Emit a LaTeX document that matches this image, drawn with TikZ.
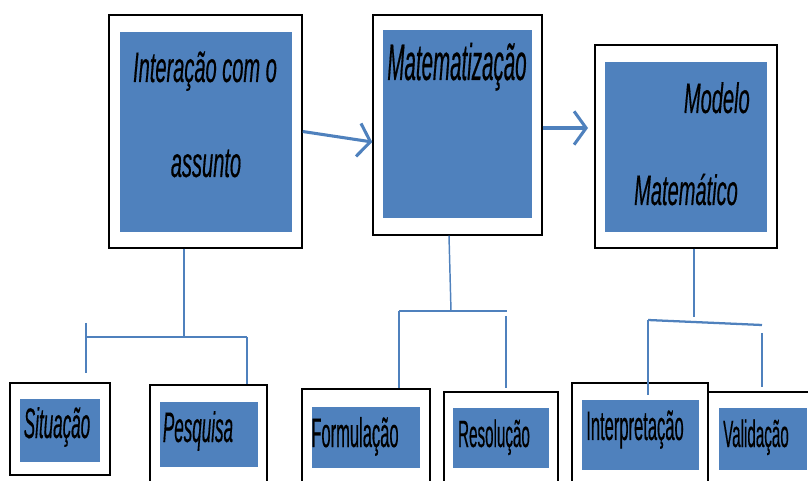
\documentclass[tikz,border=0pt]{standalone}
\usepackage{fontspec}
\setmainfont{Liberation Sans}
\newfontfamily\narrowA[FakeStretch=0.47,FakeBold=0.3]{Liberation Sans}
\newfontfamily\narrowB[FakeStretch=0.40,FakeBold=0.3]{Liberation Sans}
\usetikzlibrary{arrows.meta,fit}
\definecolor{boxblue}{RGB}{79,129,189}
\newcommand{\fsz}[1]{\fontsize{#1}{#1}\selectfont}

\begin{document}
\begin{tikzpicture}[x=0.75pt,y=-0.75pt,
  outer/.style={draw=black, line width=1.1pt, fill=white, inner sep=0pt},
  inner/.style={fill=boxblue, inner sep=0pt},
  lbl/.style={anchor=base, inner sep=0pt},
  link/.style={draw=boxblue, line width=1.1pt},
  bar/.style={draw=boxblue, line width=2.2pt},
  flow/.style={draw=boxblue, line width=2.3pt, -{Straight Barb[length=9pt,width=25pt]}}]
\useasboundingbox (0,0) rectangle (808,481);
\clip (0,0) rectangle (808,481);
% top row
\node[outer, fit={(109,15) (302,248)}] (interacaoBox){};
\node[inner, fit={(120,32) (292,232)}] (interacaoFill){};
\node[lbl, font=\narrowA\itshape\fsz{32}] (interacaoT1) at (205,82){Interação com o};
\node[lbl, font=\narrowA\itshape\fsz{32}] (interacaoT2) at (206,177){assunto};
\node[outer, fit={(373,15) (542,235)}] (matBox){};
\node[inner, fit={(383,30) (532,218)}] (matFill){};
\node[lbl, font=\narrowB\itshape\fsz{38.5}] (matT) at (457,80){Matematização};
\node[outer, fit={(595,45) (777,248)}] (modeloBox){};
\node[inner, fit={(605,62) (767,232)}] (modeloFill){};
\node[lbl, anchor=base east, font=\narrowA\itshape\fsz{32}] (modeloT1) at (750,113){Modelo};
\node[lbl, font=\narrowA\itshape\fsz{32}] (modeloT2) at (686,205){Matemático};
% bottom row
\node[outer, fit={(10,383) (110,475)}] (situacaoBox){};
\node[inner, fit={(20,399) (100,462)}] (situacaoFill){};
\node[lbl, font=\narrowB\itshape\fsz{32}] (situacaoT) at (57,438){Situação};
\node[outer, fit={(150,385) (267,495)}] (pesquisaBox){};
\node[inner, fit={(160,402) (258,467)}] (pesquisaFill){};
\node[lbl, font=\narrowB\itshape\fsz{32}] (pesquisaT) at (198,442){Pesquisa};
\node[outer, fit={(302,389) (430,495)}] (formulacaoBox){};
\node[inner, fit={(312,407) (420,468)}] (formulacaoFill){};
\node[lbl, font=\narrowB\fsz{31}] (formulacaoT) at (355,447){Formulação};
\node[outer, fit={(444,392) (558,495)}] (resolucaoBox){};
\node[inner, fit={(453,408) (549,468)}] (resolucaoFill){};
\node[lbl, font=\narrowB\fsz{28.5}] (resolucaoT) at (494,447){Resolução};
\node[outer, fit={(572,383) (708,495)}] (interpretacaoBox){};
\node[inner, fit={(582,400) (699,470)}] (interpretacaoFill){};
\node[lbl, font=\narrowB\fsz{31}] (interpretacaoT) at (635,440){Interpretação};
\node[outer, fit={(708,392) (830,495)}] (validacaoBox){};
\node[inner, fit={(719,408) (807,470)}] (validacaoFill){};
\node[lbl, font=\narrowB\fsz{28.5}] (validacaoT) at (756,447){Validação};
% arrows
\coordinate (a1) at (0,142);
\coordinate (a2) at (588,128);
\draw[flow] (interacaoBox.east) -- (matBox.west |- a1);
\draw[flow] (matBox.east |- a2) -- (a2);
% first tree
\coordinate (t1) at (184,337);
\coordinate (t1l) at (86,337);
\coordinate (t1r) at (247,337);
\coordinate (s1a) at (86,323);
\coordinate (s1b) at (86,373);
\draw[link] (interacaoBox.south -| t1) -- (t1);
\draw[bar] (t1l) -- (t1r);
\draw[link] (s1a) -- (s1b);
\draw[link] (t1r) -- (t1r |- pesquisaBox.north);
% second tree
\coordinate (t2a) at (449,0);
\coordinate (t2) at (451,311);
\coordinate (t2l) at (399,311);
\coordinate (t2r) at (507,311);
\coordinate (s2a) at (506,316);
\coordinate (s2b) at (506,388);
\draw[link] (matBox.south -| t2a) -- (t2);
\draw[bar] (t2l) -- (t2r);
\draw[link] (t2l) -- (t2l |- formulacaoBox.north);
\draw[link] (s2a) -- (s2b);
% third tree
\coordinate (t3) at (694,317);
\coordinate (t3l) at (648,320);
\coordinate (t3r) at (762,325);
\coordinate (s3a) at (762,333);
\coordinate (s3b) at (762,387);
\coordinate (s3c) at (648,395);
\draw[link] (modeloBox.south -| t3) -- (t3);
\draw[link, line width=1.7pt] (t3l) -- (t3r);
\draw[link] (t3l) -- (s3c);
\draw[link] (s3a) -- (s3b);
\end{tikzpicture}
\end{document}
